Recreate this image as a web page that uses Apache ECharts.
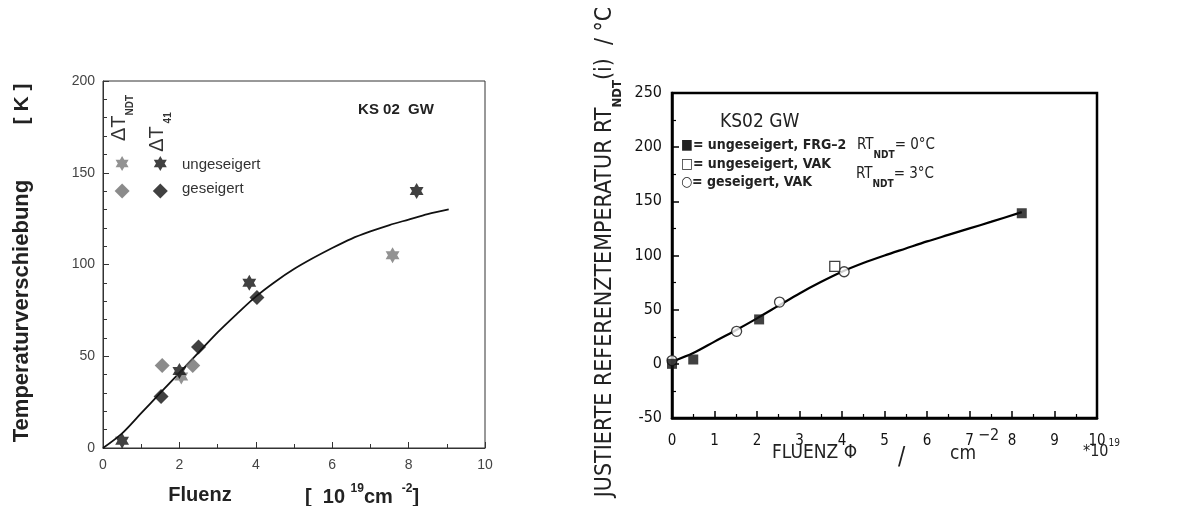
<!DOCTYPE html>
<html><head><meta charset="utf-8">
<script src="https://cdn.jsdelivr.net/npm/echarts@6/dist/echarts.min.js"></script>
<style>html,body{margin:0;padding:0;background:#fff}#c{width:1200px;height:506px}</style>
</head><body><div id="c"></div>
<script>
// ---------- Left chart data ----------
const leftXTicks = [0, 2, 4, 6, 8, 10];
const leftYTicks = [0, 50, 100, 150, 200];
const ndtUngeseigert = [[2.05, 39], [7.58, 105]];
const t41Ungeseigert = [[0.5, 4], [2.0, 42], [3.83, 90], [8.21, 140]];
const ndtGeseigert = [[1.55, 45], [2.35, 45]];
const t41Geseigert = [[1.52, 28], [2.5, 55], [4.03, 82]];
const leftFit = [[0, 0], [0.5, 8], [1, 19], [1.5, 30], [2, 41], [2.5, 52], [3, 63], [3.5, 73], [4, 82.5], [4.5, 90.5], [5, 97.5], [5.5, 103.5], [6, 109], [6.5, 114], [7, 118], [7.5, 121.5], [8, 124.5], [8.5, 127.5], [9.05, 130]];
const leftLegendKeys = [[0.5, 155], [1.5, 155], [0.5, 140], [1.5, 140]];

// ---------- Right chart data ----------
const rightXTicks = [0, 1, 2, 3, 4, 5, 6, 7, 8, 9, 10];
const rightYTicks = [-50, 0, 50, 100, 150, 200, 250];
const frg2Ungeseigert = [[0, 0], [0.5, 4], [2.05, 41], [8.23, 139]];
const vakUngeseigert = [[3.83, 90]];
const vakGeseigert = [[0, 3], [1.52, 30], [2.53, 57], [4.05, 85]];
const rightFit = [[0, 2], [0.5, 10], [1, 20.5], [1.5, 31], [2, 42], [2.5, 53.5], [3, 65], [3.5, 75.5], [4, 85], [4.5, 93], [5, 100], [5.5, 106.5], [6, 113], [6.5, 119], [7, 125], [7.5, 131], [8.23, 140]];

const STAR = 'path://M0,-10L8.66,5L-8.66,5ZM0,10L-8.66,-5L8.66,-5Z';
const ARIAL = 'Liberation Sans, Arial, sans-serif';
const NARROW = "'Liberation Sans Narrow', 'DejaVu Sans Condensed', sans-serif";

const chart = echarts.init(document.getElementById('c'), null, {renderer: 'canvas'});

const option = {
  animation: false,
  backgroundColor: '#fff',
  grid: [
    {left: 103, top: 81, width: 382, height: 367, show: true, borderColor: '#333', borderWidth: 1},
    {left: 672, top: 93, width: 425, height: 325, show: true, borderColor: '#000', borderWidth: 2.5}
  ],
  xAxis: [
    {gridIndex: 0, type: 'value', min: 0, max: 10, interval: 2,
     axisLine: {onZero: false, lineStyle: {color: '#333', width: 1}},
     axisTick: {inside: true, length: 6, lineStyle: {color: '#333'}},
     minorTick: {show: true, splitNumber: 2, length: 4, lineStyle: {color: '#333'}},
     splitLine: {show: false},
     axisLabel: {fontSize: 14, color: '#444', fontFamily: ARIAL, margin: 10,
                 formatter: v => leftXTicks.includes(v) ? String(v) : ''}},
    {gridIndex: 1, type: 'value', min: 0, max: 10, interval: 1,
     axisLine: {onZero: false, lineStyle: {color: '#000', width: 2.5}},
     axisTick: {inside: true, length: 7, lineStyle: {color: '#000', width: 1.5}},
     minorTick: {show: true, splitNumber: 2, length: 4, lineStyle: {color: '#000', width: 1.2}},
     splitLine: {show: false},
     axisLabel: {fontSize: 15, color: '#111', fontFamily: NARROW, margin: 16,
                 formatter: v => rightXTicks.includes(v) ? String(v) : ''}}
  ],
  yAxis: [
    {gridIndex: 0, type: 'value', min: 0, max: 200, interval: 50,
     axisLine: {show: true, onZero: false, lineStyle: {color: '#333', width: 1}},
     axisTick: {show: true, inside: true, length: 6, lineStyle: {color: '#333'}},
     minorTick: {show: true, splitNumber: 5, length: 4, lineStyle: {color: '#333'}},
     splitLine: {show: false},
     axisLabel: {fontSize: 14, color: '#444', fontFamily: ARIAL, margin: 8,
                 formatter: v => leftYTicks.includes(v) ? String(v) : ''}},
    {gridIndex: 1, type: 'value', min: -50, max: 250, interval: 50,
     axisLine: {show: true, onZero: false, lineStyle: {color: '#000', width: 2.5}},
     axisTick: {show: true, inside: true, length: 7, lineStyle: {color: '#000', width: 1.5}},
     minorTick: {show: true, splitNumber: 2, length: 4, lineStyle: {color: '#000', width: 1.2}},
     splitLine: {show: false},
     axisLabel: {fontSize: 16, color: '#111', fontFamily: NARROW, margin: 10,
                 formatter: v => rightYTicks.includes(v) ? String(v) : ''}}
  ],
  series: [
    {type: 'line', xAxisIndex: 0, yAxisIndex: 0, data: leftFit, smooth: 0.3, showSymbol: false,
     lineStyle: {color: '#111', width: 1.8}, z: 2},
    {type: 'scatter', xAxisIndex: 0, yAxisIndex: 0, data: ndtUngeseigert, symbol: STAR, symbolSize: 16,
     symbolKeepAspect: true, itemStyle: {color: '#777'}, z: 3},
    {type: 'scatter', xAxisIndex: 0, yAxisIndex: 0, data: ndtGeseigert, symbol: 'diamond', symbolSize: [15, 15],
     itemStyle: {color: '#6e6e6e'}, z: 3},
    {type: 'scatter', xAxisIndex: 0, yAxisIndex: 0, data: t41Ungeseigert, symbol: STAR, symbolSize: 16,
     symbolKeepAspect: true, itemStyle: {color: '#111'}, z: 4},
    {type: 'scatter', xAxisIndex: 0, yAxisIndex: 0, data: t41Geseigert, symbol: 'diamond', symbolSize: [15, 15],
     itemStyle: {color: '#111'}, z: 4},
    {type: 'scatter', xAxisIndex: 0, yAxisIndex: 0, silent: true, z: 4,
     data: [
       {value: leftLegendKeys[0], symbol: STAR, itemStyle: {color: '#777'}},
       {value: leftLegendKeys[1], symbol: STAR, itemStyle: {color: '#111'}},
       {value: leftLegendKeys[2], symbol: 'diamond', itemStyle: {color: '#6e6e6e'}},
       {value: leftLegendKeys[3], symbol: 'diamond', itemStyle: {color: '#111'}}
     ], symbolSize: 15, symbolKeepAspect: true},

    {type: 'line', xAxisIndex: 1, yAxisIndex: 1, data: rightFit, smooth: 0.3, showSymbol: false,
     lineStyle: {color: '#000', width: 2.2}, z: 2},
    {type: 'scatter', xAxisIndex: 1, yAxisIndex: 1, data: vakGeseigert, symbol: 'circle', symbolSize: 10,
     itemStyle: {color: '#fff', borderColor: '#111', borderWidth: 1.3}, z: 3},
    {type: 'scatter', xAxisIndex: 1, yAxisIndex: 1, data: vakUngeseigert, symbol: 'rect', symbolSize: 10,
     itemStyle: {color: '#fff', borderColor: '#111', borderWidth: 1.3}, z: 3},
    {type: 'scatter', xAxisIndex: 1, yAxisIndex: 1, data: frg2Ungeseigert, symbol: 'rect', symbolSize: 10,
     itemStyle: {color: '#111'}, z: 4}
  ],
  graphic: [
    // Left chart texts
    {type: 'text', x: 22, y: 311, rotation: Math.PI / 2, z: 10,
     style: {text: 'Temperaturverschiebung', font: 'bold 22px ' + ARIAL, fill: '#222', align: 'center', verticalAlign: 'middle'}},
    {type: 'text', x: 22, y: 104, rotation: Math.PI / 2, z: 10,
     style: {text: '[ K ]', font: 'bold 21px ' + ARIAL, fill: '#222', align: 'center', verticalAlign: 'middle'}},
    {type: 'text', x: 200, y: 495, z: 10,
     style: {text: 'Fluenz', font: 'bold 20px ' + ARIAL, fill: '#222', align: 'center', verticalAlign: 'middle'}},
    {type: 'text', x: 305, y: 495, z: 10,
     style: {text: '{b|[  10 }{s|19}{b|cm }{s| -2}{b|]}', verticalAlign: 'middle', align: 'left',
             rich: {b: {font: 'bold 20px ' + ARIAL, fill: '#222', verticalAlign: 'bottom', lineHeight: 24},
                    s: {font: 'bold 12px ' + ARIAL, fill: '#222', verticalAlign: 'top', lineHeight: 24}}}},
    {type: 'text', x: 396, y: 110, z: 10,
     style: {text: 'KS 02  GW', font: 'bold 15px ' + ARIAL, fill: '#222', align: 'center', verticalAlign: 'middle'}},
    {type: 'text', x: 122, y: 118, rotation: Math.PI / 2, z: 10,
     style: {text: '{b|ΔT}{s|NDT}', align: 'center', verticalAlign: 'middle',
             rich: {b: {font: '20px ' + ARIAL, fill: '#333', verticalAlign: 'top', lineHeight: 26},
                    s: {font: 'bold 10px ' + ARIAL, fill: '#333', verticalAlign: 'bottom', lineHeight: 26}}}},
    {type: 'text', x: 160, y: 132, rotation: Math.PI / 2, z: 10,
     style: {text: '{b|ΔT}{s| 41}', align: 'center', verticalAlign: 'middle',
             rich: {b: {font: '20px ' + ARIAL, fill: '#333', verticalAlign: 'top', lineHeight: 26},
                    s: {font: 'bold 10px ' + ARIAL, fill: '#333', verticalAlign: 'bottom', lineHeight: 26}}}},
    {type: 'text', x: 182, y: 165, z: 10,
     style: {text: 'ungeseigert', font: '15px ' + ARIAL, fill: '#333', verticalAlign: 'middle'}},
    {type: 'text', x: 182, y: 189, z: 10,
     style: {text: 'geseigert', font: '15px ' + ARIAL, fill: '#333', verticalAlign: 'middle'}},

    // Right chart texts
    {type: 'text', x: 609, y: 252, rotation: Math.PI / 2, z: 10,
     style: {text: '{b|JUSTIERTE REFERENZTEMPERATUR RT}{s|NDT}{b|(i)  / °C}', align: 'center', verticalAlign: 'middle',
             rich: {b: {font: '23px ' + NARROW, fill: '#222', verticalAlign: 'top', lineHeight: 30},
                    s: {font: 'bold 13px ' + NARROW, fill: '#222', verticalAlign: 'bottom', lineHeight: 30}}}},
    {type: 'text', x: 720, y: 122, z: 10,
     style: {text: 'KS02 GW', font: '19px ' + NARROW, fill: '#222', verticalAlign: 'middle'}},
    {type: 'text', x: 681, y: 145, z: 10,
     style: {text: '■= ungeseigert, FRG–2', font: 'bold 14px ' + NARROW, fill: '#222', verticalAlign: 'middle'}},
    {type: 'text', x: 681, y: 164, z: 10,
     style: {text: '□= ungeseigert, VAK', font: 'bold 14px ' + NARROW, fill: '#222', verticalAlign: 'middle'}},
    {type: 'text', x: 681, y: 182, z: 10,
     style: {text: '○= geseigert, VAK', font: 'bold 14px ' + NARROW, fill: '#222', verticalAlign: 'middle'}},
    {type: 'text', x: 857, y: 149, z: 10,
     style: {text: '{b|RT}{s|NDT}{b|= 0°C}', verticalAlign: 'middle',
             rich: {b: {font: '15px ' + NARROW, fill: '#222', verticalAlign: 'top', lineHeight: 22},
                    s: {font: 'bold 10px ' + NARROW, fill: '#222', verticalAlign: 'bottom', lineHeight: 22}}}},
    {type: 'text', x: 856, y: 178, z: 10,
     style: {text: '{b|RT}{s|NDT}{b|= 3°C}', verticalAlign: 'middle',
             rich: {b: {font: '15px ' + NARROW, fill: '#222', verticalAlign: 'top', lineHeight: 22},
                    s: {font: 'bold 10px ' + NARROW, fill: '#222', verticalAlign: 'bottom', lineHeight: 22}}}},
    {type: 'text', x: 772, y: 463, z: 10,
     style: {text: 'FLUENZ Φ', font: '19px ' + NARROW, fill: '#222', verticalAlign: 'bottom'}},
    {type: 'text', x: 898, y: 470, z: 10,
     style: {text: '/', font: '24px ' + NARROW, fill: '#222', verticalAlign: 'bottom'}},
    {type: 'text', x: 950, y: 464, z: 10,
     style: {text: '{b|cm}{s|−2}', verticalAlign: 'bottom',
             rich: {b: {font: '19px ' + NARROW, fill: '#222', verticalAlign: 'bottom', lineHeight: 36},
                    s: {font: '16px ' + NARROW, fill: '#222', verticalAlign: 'top', lineHeight: 36, padding: [0, 0, 0, 2]}}}},
    {type: 'text', x: 1083, y: 460, z: 10,
     style: {text: '{b|*10}{s|19}', verticalAlign: 'bottom',
             rich: {b: {font: '16px ' + NARROW, fill: '#222', verticalAlign: 'bottom', lineHeight: 22},
                    s: {font: '10px ' + NARROW, fill: '#222', verticalAlign: 'top', lineHeight: 22}}}}
  ]
};
chart.setOption(option);
</script></body></html>
